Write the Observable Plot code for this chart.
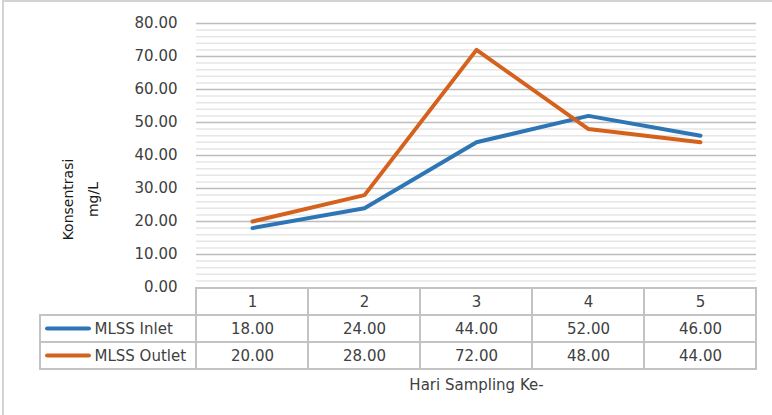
<!DOCTYPE html>
<html>
<head>
<meta charset="utf-8">
<script src="https://cdn.jsdelivr.net/npm/d3@7"></script>
<script src="https://cdn.jsdelivr.net/npm/@observablehq/plot@0.6"></script>
<style>
  html, body { margin: 0; padding: 0; background: #fff; }
  #wrap { position: relative; width: 772px; height: 415px; overflow: hidden; background: #fff; }
  #border { position: absolute; left: 2px; top: 0px; width: 820px; height: 520px; border: 2px solid #d3d3d3; box-sizing: border-box; }
  #chart { position: absolute; left: 0; top: 0; }
  #table { position: absolute; left: 0; top: 287px; }
</style>
</head>
<body>
<div id="wrap">
  <div id="border"></div>
  <div id="chart"></div>
  <div id="table"></div>
</div>
<script>
// Sampling days and MLSS concentrations (mg/L)
const days = [1, 2, 3, 4, 5];
const seriesNames = ["MLSS Inlet", "MLSS Outlet"];
const inlet = [18, 24, 44, 52, 46];
const outlet = [20, 28, 72, 48, 44];
const colors = ["#2E75B6", "#D4621C"];
const yMajorTicks = [0, 10, 20, 30, 40, 50, 60, 70, 80];
const yMinorTicks = d3.range(2, 80, 2).filter(v => v % 10 !== 0);
const yTitleLines = ["Konsentrasi", "mg/L"];

const rows = [
  ...days.map((d, i) => ({day: d, series: seriesNames[0], value: inlet[i]})),
  ...days.map((d, i) => ({day: d, series: seriesNames[1], value: outlet[i]}))
];

const W = 772;
const marginLeft = 196, marginRight = 16;
const colW = (W - marginLeft - marginRight) / days.length;
const font = {fontFamily: "'DejaVu Sans', sans-serif", fontSize: "15px", color: "#404040", background: "transparent", overflow: "visible"};
const xScale = {type: "linear", domain: [0.5, days.length + 0.5]};
const color = {domain: seriesNames, range: colors};

// Line chart with major and minor gridlines
const chart = Plot.plot({
  width: W, height: 290,
  marginTop: 23, marginBottom: 3, marginLeft, marginRight,
  style: font,
  x: {...xScale, axis: null},
  y: {domain: [0, 80], ticks: yMajorTicks, tickFormat: d => d.toFixed(2), tickSize: 0, tickPadding: 19, label: null},
  color,
  marks: [
    Plot.ruleY(yMinorTicks, {stroke: "#e6e6e6", strokeWidth: 1.5}),
    Plot.ruleY(yMajorTicks.filter(v => v > 0), {stroke: "#bdbdbd", strokeWidth: 1.5}),
    Plot.line(rows, {x: "day", y: "value", z: "series", stroke: "series", strokeWidth: 4, strokeLinecap: "round", strokeLinejoin: "round"}),
    // two-line vertical axis title
    Plot.text([yTitleLines[0]], {frameAnchor: "left", textAnchor: "middle", dx: -128, dy: 44, rotate: -90, fontSize: 14, fill: "#1a1a1a"}),
    Plot.text([yTitleLines[1]], {frameAnchor: "left", textAnchor: "middle", dx: -103, dy: 44, rotate: -90, fontSize: 14, fill: "#1a1a1a"})
  ]
});
document.getElementById("chart").appendChild(chart);

// Data table below the chart, sharing the chart's x layout
const labelLeft = 0.5 - 156 / colW;      // left edge of the series-name column
const swatchX1 = 0.5 - 151 / colW;
const swatchX2 = 0.5 - 105 / colW;
const rowKeys = ["header", ...seriesNames];
const gridStroke = "#c3c3c3";

const table = Plot.plot({
  width: W, height: 128,
  marginTop: 1, marginBottom: 46, marginLeft, marginRight,
  style: font,
  x: {...xScale, axis: null},
  y: {type: "band", domain: rowKeys, padding: 0, axis: null},
  color,
  marks: [
    Plot.barX(days.flatMap(d => rowKeys.map(r => ({day: d, row: r}))), {
      x1: d => d.day - 0.5, x2: d => d.day + 0.5, y: "row",
      fill: "none", stroke: gridStroke, strokeWidth: 2
    }),
    Plot.barX(seriesNames, {x1: labelLeft, x2: 0.5, y: d => d, fill: "none", stroke: gridStroke, strokeWidth: 2}),
    Plot.barX(seriesNames, {x1: swatchX1, x2: swatchX2, y: d => d, fill: d => d, insetTop: 11.5, insetBottom: 11.5, rx: 2.2}),
    Plot.text(days, {x: d => d, y: () => "header", text: d => String(d), fill: "#404040"}),
    Plot.text(rows, {x: "day", y: "series", text: d => d.value.toFixed(2), fill: "#404040"}),
    Plot.text(seriesNames, {x: 0.5, y: d => d, dx: -102, text: d => d, textAnchor: "start", fill: "#404040"}),
    Plot.text(["Hari Sampling Ke-"], {x: (days.length + 1) / 2, frameAnchor: "bottom", dy: 20, fill: "#404040"})
  ]
});
document.getElementById("table").appendChild(table);
</script>
</body>
</html>
